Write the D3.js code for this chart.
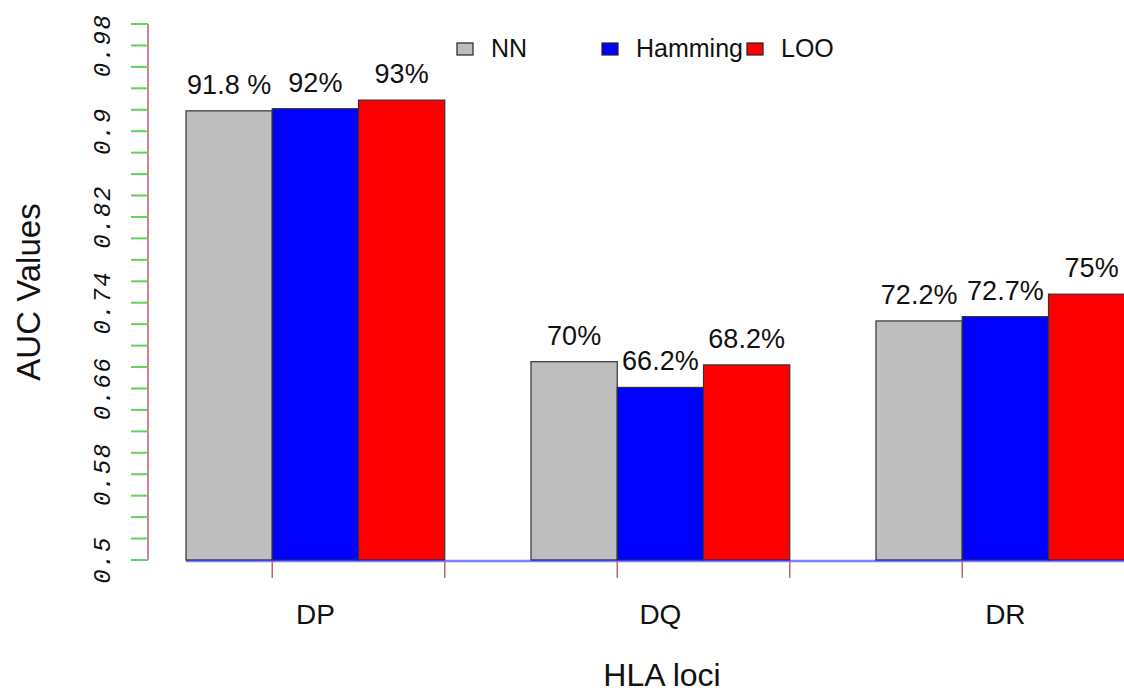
<!DOCTYPE html>
<html>
<head>
<meta charset="utf-8">
<script src="https://cdn.jsdelivr.net/npm/d3@7"></script>
<style>
  body { margin: 0; background: #fff; }
  text { font-family: "Liberation Sans", Arial, sans-serif; fill: #111; }
</style>
</head>
<body>
<script>
// Chart data
const loci = ["DP", "DQ", "DR"];
const methods = ["NN", "Hamming", "LOO"];
const nnValues = [0.919, 0.685, 0.723];
const hammingValues = [0.921, 0.661, 0.727];
const looValues = [0.929, 0.682, 0.748];
const nnLabels = ["91.8 %", "70%", "72.2%"];
const hammingLabels = ["92%", "66.2%", "72.7%"];
const looLabels = ["93%", "68.2%", "75%"];
const yTicks = d3.range(0.5, 1.0001, 0.02);
const yTickLabels = [0.5, 0.58, 0.66, 0.74, 0.82, 0.9, 0.98];

const width = 1124;
const height = 693;
const colors = ["#bebebe", "#0000ff", "#ff0000"];

// table the drawing uses
const series = [nnValues, hammingValues, looValues];
const labels = [nnLabels, hammingLabels, looLabels];
const bars = [];
loci.forEach((l, g) => {
  methods.forEach((m, s) => {
    bars.push({ locus: l, method: m, g: g, s: s, value: series[s][g], label: labels[s][g] });
  });
});

const svg = d3.select("body")
  .append("svg")
  .attr("width", width)
  .attr("height", height);

svg.append("rect").attr("width", width).attr("height", height).attr("fill", "#fff");

// x in "bar units" like R barplot (space = c(0,1))
const x = d3.scaleLinear()
  .domain([0, 12])
  .range([99.75, 1134.75]);
const bw = x(1) - x(0);

const y = d3.scaleLinear()
  .domain([0.5, 1.0])
  .range([560, 24]);

// Bars
svg.selectAll(".bar")
  .data(bars)
  .enter()
  .append("rect")
  .attr("class", "bar")
  .attr("x", (d) => x(1 + d.g * 4 + d.s))
  .attr("y", (d) => y(d.value))
  .attr("width", bw)
  .attr("height", (d) => y(0.5) - y(d.value))
  .attr("fill", (d) => colors[d.s])
  .attr("stroke", "#333")
  .attr("stroke-width", 1.2);

// baseline
svg.append("line")
  .attr("x1", x(1)).attr("x2", x(12))
  .attr("y1", y(0.5) + 1).attr("y2", y(0.5) + 1)
  .attr("stroke", "#0000ff")
  .attr("stroke-opacity", 0.5)
  .attr("stroke-width", 2.5);

// value labels
svg.selectAll(".val")
  .data(bars)
  .enter()
  .append("text")
  .attr("class", "val")
  .attr("x", (d) => x(1 + d.g * 4 + d.s) + bw / 2)
  .attr("y", (d) => y(d.value) - 17)
  .attr("text-anchor", "middle")
  .attr("font-size", "27px")
  .text((d) => d.label);

// Y axis
const yAxis = svg.append("g");
yAxis.append("line")
  .attr("x1", 148).attr("x2", 148)
  .attr("y1", y(1.0)).attr("y2", y(0.5))
  .attr("stroke", "#d0507a")
  .attr("stroke-width", 1.5);
yAxis.selectAll(".ytick")
  .data(yTicks)
  .enter()
  .append("line")
  .attr("x1", 131).attr("x2", 148)
  .attr("y1", (d) => y(d)).attr("y2", (d) => y(d))
  .attr("stroke", "#5fd35f")
  .attr("stroke-width", 2);
yAxis.selectAll(".ylab")
  .data(yTickLabels)
  .enter()
  .append("text")
  .attr("transform", (d) => `translate(110,${y(d)}) rotate(-90)`)
  .attr("text-anchor", "middle")
  .style("font-family", "'Liberation Mono', monospace")
  .style("font-style", "italic")
  .style("letter-spacing", "1.5px")
  .attr("font-size", "24px")
  .attr("fill", "#444")
  .text((d) => String(d));

svg.append("text")
  .attr("transform", `translate(40,${(y(0.5) + y(1.0)) / 2}) rotate(-90)`)
  .attr("text-anchor", "middle")
  .attr("font-size", "33px")
  .text("AUC Values");

// X axis ticks and labels
svg.selectAll(".xtick")
  .data(d3.range(2, 13, 2))
  .enter()
  .append("line")
  .attr("x1", (d) => x(d)).attr("x2", (d) => x(d))
  .attr("y1", 562).attr("y2", 578)
  .attr("stroke", "#b03030")
  .attr("stroke-opacity", 0.75)
  .attr("stroke-width", 1.5);

svg.selectAll(".xlab")
  .data(loci)
  .enter()
  .append("text")
  .attr("x", (d, i) => x(2.5 + i * 4))
  .attr("y", 624)
  .attr("text-anchor", "middle")
  .attr("font-size", "28px")
  .text((d) => d);

svg.append("text")
  .attr("x", 662)
  .attr("y", 686)
  .attr("text-anchor", "middle")
  .attr("font-size", "32px")
  .text("HLA loci");

// Legend
const legendX = [457, 602, 747];
const legend = svg.selectAll(".leg")
  .data(methods)
  .enter()
  .append("g")
  .attr("transform", (d, i) => `translate(${legendX[i]},43)`);
legend.append("rect")
  .attr("width", 16).attr("height", 12)
  .attr("fill", (d, i) => colors[i])
  .attr("stroke", "#222")
  .attr("stroke-width", 1.2);
legend.append("text")
  .attr("x", 34)
  .attr("y", 14)
  .attr("font-size", "25px")
  .text((d) => d);
</script>
</body>
</html>
